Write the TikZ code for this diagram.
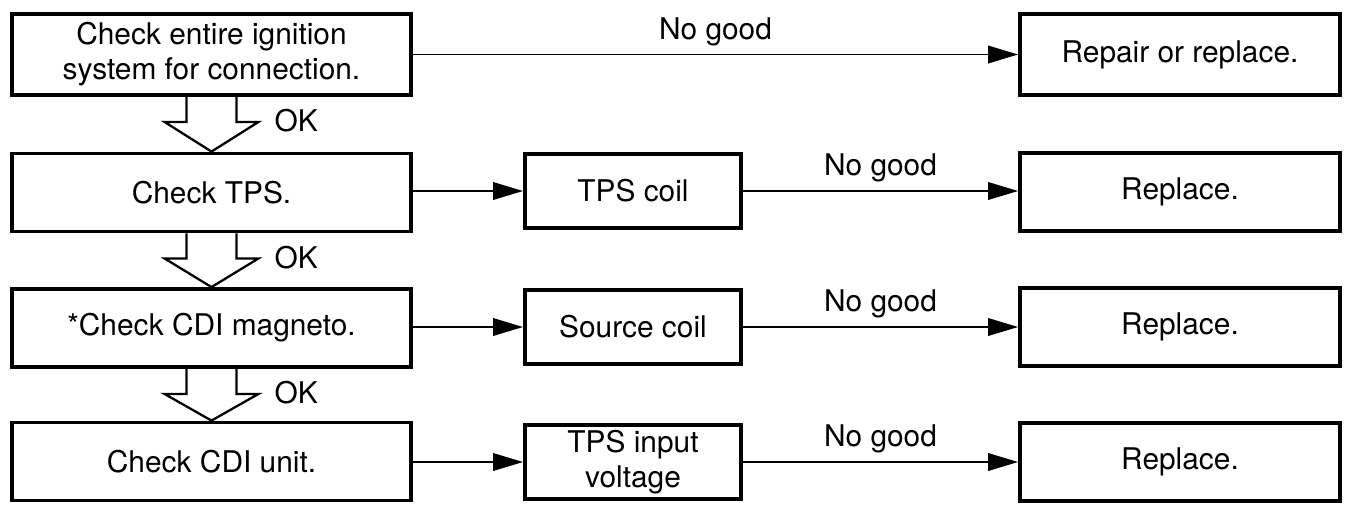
\documentclass[tikz,border=0pt]{standalone}
\usepackage{fontspec}
\setmainfont{TeX Gyre Heros}
\usetikzlibrary{positioning,arrows.meta,calc}

\begin{document}
\begin{tikzpicture}[x=0.02cm,y=-0.02cm,font=\fontsize{17}{20}\selectfont,
  box/.style={draw,line width=2.2pt,align=center,inner sep=0pt},
  lbox/.style={box,minimum width=7.98cm,minimum height=1.56cm},
  mbox/.style={box,minimum width=4.32cm,minimum height=1.48cm},
  rbox/.style={box,minimum width=6.4cm,minimum height=1.56cm},
  conn/.style={line width=1.1pt,-{Triangle[length=6mm,width=3.5mm]}},
  hollow/.style={line width=1.3pt,line join=miter}]
\useasboundingbox (0,0) rectangle (1350,512);
% ---- left column: checks ----
\node[lbox,minimum height=1.62cm] (l1) at (211.5,54.5) {Check entire ignition\\system for connection.};
\node[lbox] (l2) at (211.5,192.5) {Check TPS.};
\node[lbox] (l3) at (211.5,328) {*Check CDI magneto.};
\node[lbox] (l4) at (211.5,461.5) {Check CDI unit.};
% ---- middle column: parts ----
\node[mbox] (m2) at (633,191) {TPS coil};
\node[mbox] (m3) at (633,327) {Source coil};
\node[mbox] (m4) at (633,462) {TPS input\\voltage};
% ---- right column: remedies ----
\node[rbox,minimum height=1.62cm] (r1) at (1180,54.5) {Repair or replace.};
\node[rbox] (r2) at (1180,192) {Replace.};
\node[rbox] (r3) at (1180,327) {Replace.};
\node[rbox] (r4) at (1180,462) {Replace.};
% ---- connectors ----
\draw[conn] (l1) -- node[above=1pt] {No good} (r1);
\foreach \i in {2,3,4}{
  \draw[conn] (l\i.east |- m\i) -- (m\i);
  \draw[conn] (m\i) -- node[above=1pt] {No good} (r\i.west |- m\i);}
% hollow OK arrows between the checks
\foreach \i/\j in {1/2,2/3,3/4}{
  \draw[hollow] ($(l\i.south)+(-25,0)$) -- ++(0,25) -- ++(-22,0) -- (l\j.north)
    -- ($(l\i.south)+(47,25)$) -- ++(-22,0) -- ++(0,-25);
  \node[anchor=west] (ok\i) at ($(l\i.south)+(57,24)$) {OK};}
\end{tikzpicture}
\end{document}
